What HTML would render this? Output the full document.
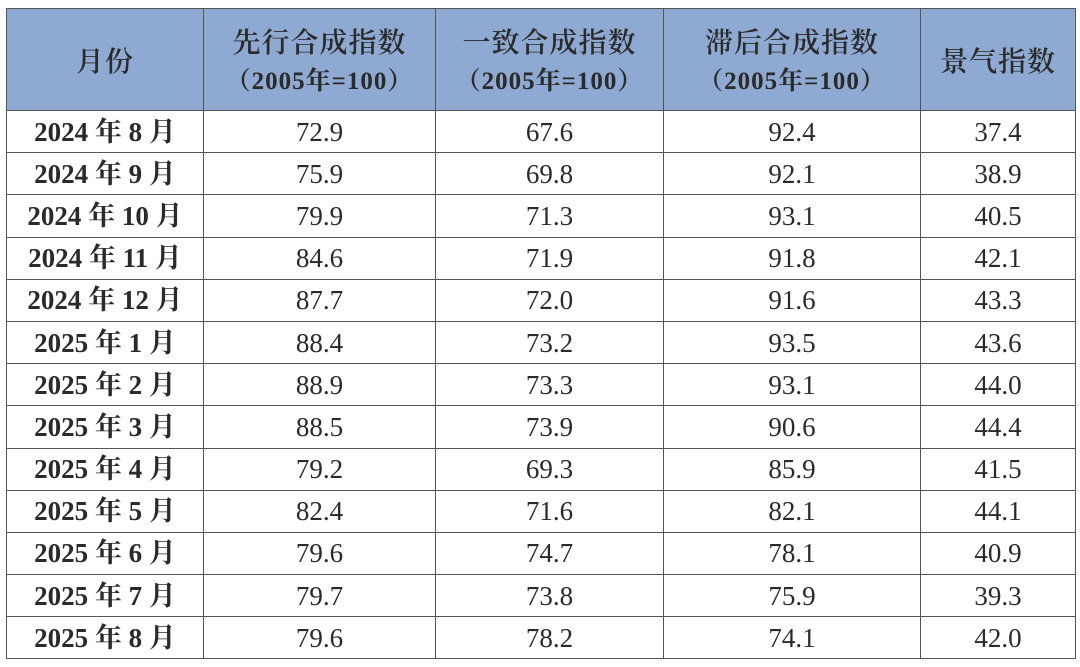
<!DOCTYPE html><html><head><meta charset="utf-8"><style>
body{margin:0;background:#fff;width:1080px;height:667px;overflow:hidden}
table{position:absolute;left:6px;top:8px;border-collapse:collapse;table-layout:fixed;width:1069px}
td,th{border:1.5px solid #555;text-align:center;padding:0;color:#2a2a2a;box-sizing:border-box}
th{background:#8eaad3;font-family:"Liberation Serif","Noto Serif CJK SC",serif;font-weight:600;font-size:28px;line-height:37px;letter-spacing:1px;padding-top:5px}
th b{font-weight:bold;font-size:25px}
tr.h{height:102px}
tr{height:42.2px}
td{font-family:"Liberation Serif","Noto Serif CJK SC",serif;font-size:27px;line-height:30px}
td:first-child{font-weight:bold}
</style></head><body><table>
<colgroup><col style="width:197px"><col style="width:232px"><col style="width:228px"><col style="width:257px"><col style="width:155px"></colgroup>
<tr class="h"><th>月份</th><th>先行合成指数<br><b>（2005年=100）</b></th><th>一致合成指数<br><b>（2005年=100）</b></th><th>滞后合成指数<br><b>（2005年=100）</b></th><th>景气指数</th></tr>
<tr><td>2024 年 8 月</td><td>72.9</td><td>67.6</td><td>92.4</td><td>37.4</td></tr>
<tr><td>2024 年 9 月</td><td>75.9</td><td>69.8</td><td>92.1</td><td>38.9</td></tr>
<tr><td>2024 年 10 月</td><td>79.9</td><td>71.3</td><td>93.1</td><td>40.5</td></tr>
<tr><td>2024 年 11 月</td><td>84.6</td><td>71.9</td><td>91.8</td><td>42.1</td></tr>
<tr><td>2024 年 12 月</td><td>87.7</td><td>72.0</td><td>91.6</td><td>43.3</td></tr>
<tr><td>2025 年 1 月</td><td>88.4</td><td>73.2</td><td>93.5</td><td>43.6</td></tr>
<tr><td>2025 年 2 月</td><td>88.9</td><td>73.3</td><td>93.1</td><td>44.0</td></tr>
<tr><td>2025 年 3 月</td><td>88.5</td><td>73.9</td><td>90.6</td><td>44.4</td></tr>
<tr><td>2025 年 4 月</td><td>79.2</td><td>69.3</td><td>85.9</td><td>41.5</td></tr>
<tr><td>2025 年 5 月</td><td>82.4</td><td>71.6</td><td>82.1</td><td>44.1</td></tr>
<tr><td>2025 年 6 月</td><td>79.6</td><td>74.7</td><td>78.1</td><td>40.9</td></tr>
<tr><td>2025 年 7 月</td><td>79.7</td><td>73.8</td><td>75.9</td><td>39.3</td></tr>
<tr><td>2025 年 8 月</td><td>79.6</td><td>78.2</td><td>74.1</td><td>42.0</td></tr>
</table></body></html>
